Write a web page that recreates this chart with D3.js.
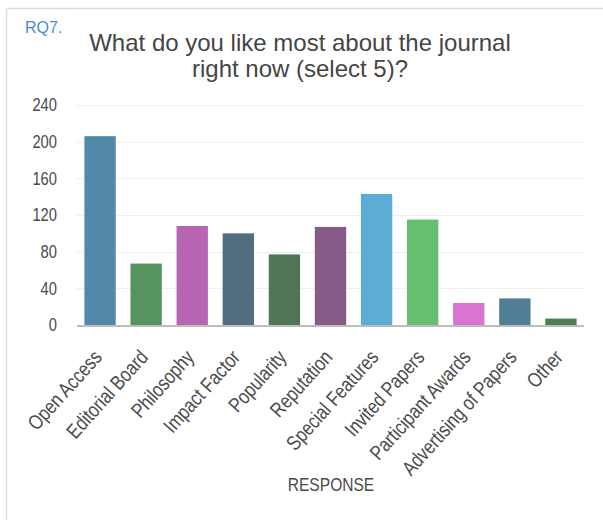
<!DOCTYPE html>
<html>
<head>
<meta charset="utf-8">
<script src="https://cdn.jsdelivr.net/npm/d3@7"></script>
<style>
  html, body { margin: 0; padding: 0; background: #fff; }
  svg { display: block; font-family: "Liberation Sans", Arial, sans-serif; }
</style>
</head>
<body>
<svg id="chart" width="603" height="520"></svg>
<script>
// Survey responses for RQ7
const categories = ["Open Access", "Editorial Board", "Philosophy", "Impact Factor", "Popularity",
  "Reputation", "Special Features", "Invited Papers", "Participant Awards", "Advertising of Papers", "Other"];
const counts = [206, 67, 108, 100, 77, 107, 143, 115, 24, 29, 7];
const barColors = ["#5289a8", "#55935f", "#b866b3", "#506e80", "#527655", "#875a87",
  "#5dacd6", "#64c06f", "#d874d2", "#527d96", "#4f7d56"];
const yTicks = [0, 40, 80, 120, 160, 200, 240];
const titleLines = ["What do you like most about the journal", "right now (select 5)?"];

// condensed look for axis text: horizontally squeezed sans
const squeeze = "scale(0.82,1)";

const svg = d3.select("#chart");

// panel frame (top and left edges)
svg.append("line").attr("x1", 6.5).attr("x2", 603).attr("y1", 8.5).attr("y2", 8.5)
  .attr("stroke", "#dcdcdc").attr("stroke-width", 1.5);
svg.append("line").attr("x1", 6.5).attr("x2", 6.5).attr("y1", 8.5).attr("y2", 520)
  .attr("stroke", "#dcdcdc").attr("stroke-width", 1.5);

svg.append("text").attr("x", 25).attr("y", 33).text("RQ7.")
  .attr("font-size", 16).attr("fill", "#4a8bd6");

svg.append("g").selectAll("text").data(titleLines).join("text")
  .attr("x", 300).attr("y", (d, i) => 51 + i * 26)
  .attr("text-anchor", "middle").attr("font-size", 24).attr("fill", "#454545")
  .text(d => d);

const x = d3.scaleBand().domain(categories).range([77, 584]).paddingInner(0.32).paddingOuter(0.16);
const y = d3.scaleLinear().domain([0, 240]).range([325, 105]);

// gridlines
svg.append("g").selectAll("line").data(yTicks.filter(t => t > 0)).join("line")
  .attr("x1", 77).attr("x2", 584)
  .attr("y1", d => Math.round(y(d)) + 0.5).attr("y2", d => Math.round(y(d)) + 0.5)
  .attr("stroke", "#efefef").attr("stroke-width", 1);

// y axis labels
const yAxis = d3.axisLeft(y).tickValues(yTicks).tickSize(0).tickPadding(0);
const gy = svg.append("g").attr("transform", "translate(57,0)").call(yAxis);
gy.select(".domain").remove();
gy.selectAll("text").attr("font-family", "Liberation Sans, Arial, sans-serif")
  .attr("x", 0).attr("transform", squeeze)
  .attr("font-size", 18).attr("fill", "#4a4a4a");

// bars
svg.append("g").selectAll("rect").data(categories).join("rect")
  .attr("x", d => x(d)).attr("width", x.bandwidth())
  .attr("y", (d, i) => y(counts[i])).attr("height", (d, i) => y(0) - y(counts[i]))
  .attr("fill", (d, i) => barColors[i]);

// baseline
svg.append("line").attr("x1", 77).attr("x2", 584).attr("y1", y(0) + 1).attr("y2", y(0) + 1)
  .attr("stroke", "#bdbdbd").attr("stroke-width", 2);

// category labels
const xAxis = d3.axisBottom(x).tickSize(0).tickPadding(0);
const gx = svg.append("g").call(xAxis);
gx.select(".domain").remove();
gx.selectAll(".tick").attr("transform", d => `translate(${x(d) + x.bandwidth() / 2 + 3},358)`);
gx.selectAll("text").attr("font-family", "Liberation Sans, Arial, sans-serif")
  .attr("y", 0).attr("dy", 0).attr("x", 0)
  .attr("text-anchor", "end").attr("transform", "rotate(-48) " + squeeze)
  .attr("font-size", 20.5).attr("fill", "#4a4a4a");

svg.append("text").attr("transform", "translate(331,491) " + squeeze).attr("text-anchor", "middle")
  .attr("font-size", 19).attr("fill", "#4a4a4a").text("RESPONSE");
</script>
</body>
</html>
